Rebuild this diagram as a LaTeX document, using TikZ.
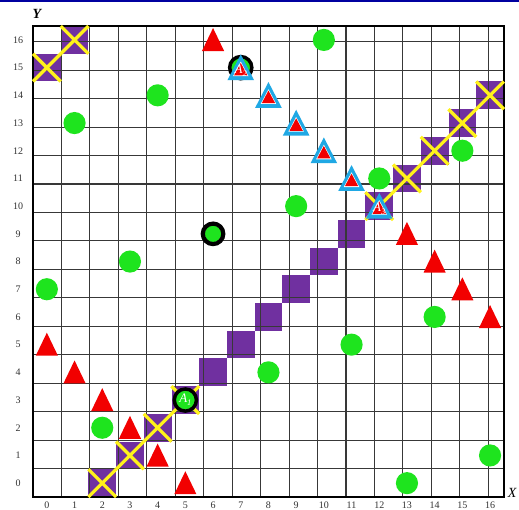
\documentclass[tikz,border=0pt]{standalone}
\usepackage{fontspec}
\setmainfont{Liberation Serif}
\newcommand{\lowsub}[1]{\raisebox{-0.45ex}{\fontsize{8.5}{9}\selectfont #1}}
\begin{document}
\begin{tikzpicture}[x=1pt,y=1pt]
\definecolor{gpurple}{HTML}{7030A0}
\definecolor{gyellow}{HTML}{FFF21A}
\definecolor{ggreen}{HTML}{1EE41E}
\definecolor{gred}{HTML}{F20000}
\definecolor{gblue}{HTML}{1FA8E4}
\definecolor{topblue}{HTML}{0000A0}
\definecolor{gridgray}{HTML}{383838}
\tikzset{
  numlbl/.style={font=\fontsize{10}{12}\selectfont, text=black!80, inner sep=0pt},
  axlbl/.style={font=\fontsize{14}{16}\selectfont\itshape, inner sep=0pt},
  alabel/.style={font=\fontsize{13}{15}\selectfont\itshape, text=white, inner sep=0pt},
  redtri/.pic={\fill[gred] (-0.4,-0.4) -- (0.4,-0.4) -- (0,0.43) -- cycle;},
  bluetri/.pic={\fill[gblue] (-0.48,-0.45) -- (0.48,-0.45) -- (0,0.48) -- cycle;
    \fill[white] (-0.28,-0.31) -- (0.28,-0.31) -- (0,0.22) -- cycle;
    \fill[gred] (-0.24,-0.28) -- (0.24,-0.28) -- (0,0.17) -- cycle;},
  gdot/.pic={\fill[ggreen] (0,0) circle (0.4);},
  xmark/.pic={\draw[gyellow, line width=3.3pt] (-0.5,-0.5) -- (0.5,0.5) (-0.5,0.5) -- (0.5,-0.5);}
}
\useasboundingbox (0,0) rectangle (519,510);
\fill[white] (0,0) rectangle (519,510);
\draw[topblue, line width=2pt] (0,509) -- (519,509);
\begin{scope}[shift={(33,13)}, x=27.7pt, y=27.7pt]
  % purple cells
  \foreach \c/\r in {1/16,0/15,16/14,15/13,14/12,13/11,12/10,5/3,4/2,3/1,2/0,11/9,10/8,9/7,8/6,7/5,6/4}
    \fill[gpurple] (\c,\r) rectangle +(1,1);
  % grid
  \draw[gridgray, line width=1.1pt] (0,0) grid (17,17);
  \draw[black, line width=1.3pt] (0,0) rectangle (17,17);
  % yellow crosses
  \foreach \c/\r in {1/16,0/15,16/14,15/13,14/12,13/11,12/10,5/3,4/2,3/1,2/0}
    \pic at (\c+0.5,\r+0.5) {xmark};
  % red triangles
  \foreach \c/\r in {6/16,13/9,14/8,15/7,16/6,0/5,1/4,2/3,3/2,4/1,5/0}
    \pic at (\c+0.5,\r+0.5) {redtri};
  % green circles
  \foreach \c/\r in {10/16,4/14,1/13,15/12,12/11,9/10,3/8,0/7,14/6,11/5,8/4,2/2,16/1,13/0}
    \pic at (\c+0.5,\r+0.5) {gdot};
  % ringed circle at (6,9)
  \fill[ggreen] (6.5,9.5) circle (0.3);
  \draw[black, line width=4.2pt] (6.5,9.5) circle (0.37);
  % A1
  \fill[ggreen] (5.5,3.5) circle (0.4);
  \draw[black, line width=3.5pt] (5.5,3.5) circle (0.4);
  \node[alabel] (a1) at (5.5,3.5) {A\lowsub{1}};
  % A2
  \fill[ggreen] (7.5,15.5) circle (0.4);
  \draw[black, line width=3.5pt] (7.5,15.5) circle (0.4);
  % blue triangles
  \foreach \c/\r in {7/15,8/14,9/13,10/12,11/11,12/10}
    \pic at (\c+0.5,\r+0.5) {bluetri};
  \node[alabel] (a2) at (7.5,15.4) {A\lowsub{2}};
  \node[alabel] (a3) at (12.5,10.4) {A\lowsub{3}};
  % axis numbers
  \foreach \i in {0,...,16} {
    \node[numlbl] (cx\i) at (\i+0.5,-0.29) {\i};
    \node[numlbl] (ry\i) at (-0.54,\i+0.5) {\i};
  }
  \node[axlbl, font=\fontsize{14}{16}\selectfont\bfseries\itshape] (ylab) at (0.14,17.44) {Y};
  \node[axlbl] (xlab) at (17.3,0.14) {X};
\end{scope}
\end{tikzpicture}
\end{document}
